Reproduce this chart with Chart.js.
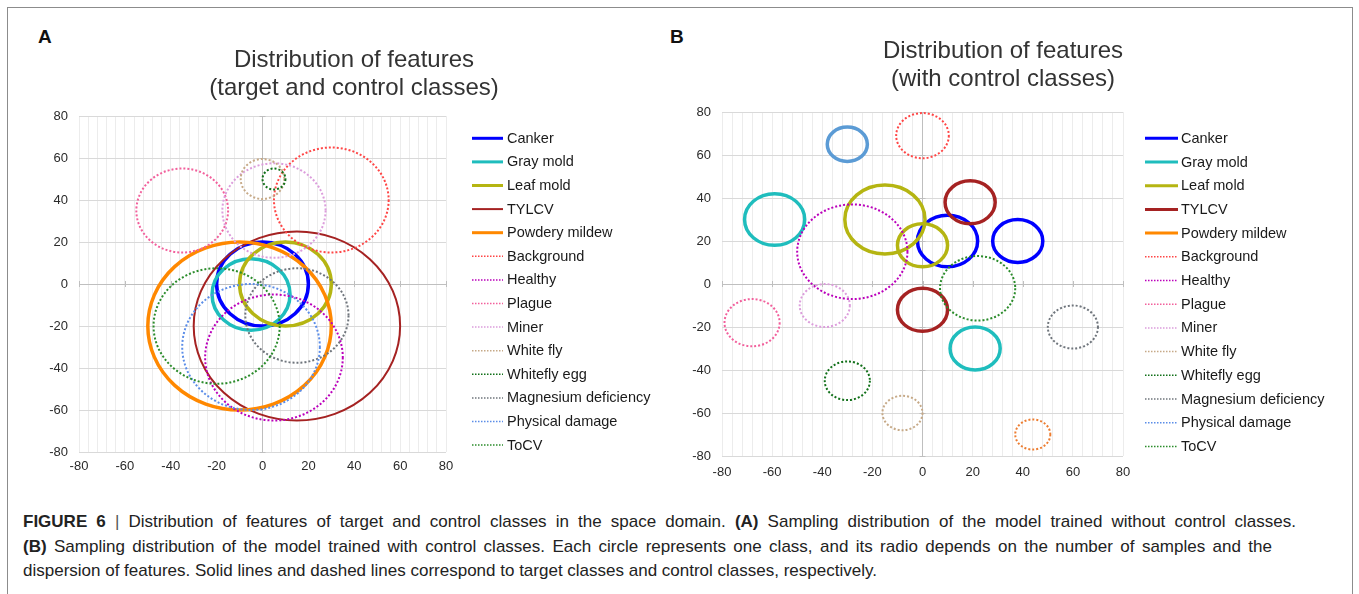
<!DOCTYPE html>
<html lang="en">
<head>
<meta charset="UTF-8">
<title>Distribution of features</title>
<script src="https://cdn.jsdelivr.net/npm/chart.js"></script>
<style>
    html, body { margin: 0; padding: 0; background: #fff; }
    body {
        width: 1359px; height: 594px; position: relative; overflow: hidden;
        font-family: 'Liberation Sans', Arial, sans-serif;
    }
    #frame {
        position: absolute; left: 7px; top: 7px; width: 1346px; height: 600px;
        border: 1px solid #8c8c8c; border-bottom: none; box-sizing: border-box;
    }
    .letter { position: absolute; top: 26px; font-weight: bold; font-size: 19px; color: #111; }
    .wrap { position: absolute; top: 0; height: 490px; }
    #caption {
        position: absolute; left: 23px; top: 510px;
        font-size: 17px; line-height: 24.5px; color: #222; white-space: nowrap;
    }
    #caption .just { text-align: justify; text-align-last: justify; }
    #caption .sep { color: #555; }
</style>
</head>
<body>
<div id="frame"></div>
<div class="letter" style="left:38px">A</div>
<div class="letter" style="left:670px">B</div>
<div class="wrap" style="left:28px; width:652px"><canvas id="chartA" width="652" height="490"></canvas></div>
<div class="wrap" style="left:680px; width:679px"><canvas id="chartB" width="679" height="490"></canvas></div>
<div id="caption">
    <div class="just" style="width:1273px"><b>FIGURE 6</b> <span class="sep">|</span> Distribution of features of target and control classes in the space domain. <b>(A)</b> Sampling distribution of the model trained without control classes.</div>
    <div class="just" style="width:1249px"><b>(B)</b> Sampling distribution of the model trained with control classes. Each circle represents one class, and its radio depends on the number of samples and the</div>
    <div>dispersion of features. Solid lines and dashed lines correspond to target classes and control classes, respectively.</div>
</div>
<script>
    // classes in legend order
    const classNames = ['Canker', 'Gray mold', 'Leaf mold', 'TYLCV', 'Powdery mildew', 'Background', 'Healthy',
        'Plague', 'Miner', 'White fly', 'Whitefly egg', 'Magnesium deficiency', 'Physical damage', 'ToCV'];
    const classColors = ['#0000ff', '#1fbdbd', '#b5b512', '#a52222', '#ff8800', '#ff4646', '#bb00bb',
        '#f2609c', '#dc9ddc', '#c6a987', '#117019', '#6f757c', '#5b8de8', '#2b8c2b'];
    const classDotted = [false, false, false, false, false, true, true, true, true, true, true, true, true, true];

    const xTickLabels = [-80, -60, -40, -20, 0, 20, 40, 60, 80];
    const yTickLabels = [-80, -60, -40, -20, 0, 20, 40, 60, 80];

    // Panel A: one circle per class (center x, center y, radius)
    const aClass = classNames;
    const aX = [0, -5, 10, 15, -10, 30, 5, -35, 5, 0, 5, 15, -5, -20];
    const aY = [0, -5, 0, -20, -20, 40, -35, 35, 35, 50, 50, -15, -30, -20];
    const aR = [20, 17, 20, 45, 40, 25, 30, 20, 22.5, 9.5, 5, 22.5, 30, 27.5];

    // Panel B: two series are drawn but not listed in the legend
    const bExtraNames = ['Series 15', 'Series 16'];
    const bExtraColors = ['#5b9bd5', '#ed7d31'];
    const bExtraDotted = [false, true];
    const bClass = ['Canker', 'Canker', 'Gray mold', 'Gray mold', 'Leaf mold', 'Leaf mold', 'TYLCV', 'TYLCV',
        'Background', 'Healthy', 'Plague', 'Miner', 'White fly', 'Whitefly egg', 'Magnesium deficiency', 'ToCV',
        'Series 15', 'Series 16'];
    const bX = [10, 38, -59, 21, -15, 0, 19, 0, 0, -28, -68, -39, -8, -30, 60, 22, -30, 44];
    const bY = [20, 20, 30, -30, 30, 18, 38, -12, 69, 15, -18, -10, -60, -45, -20, -2, 65, -70];
    const bR = [12, 10, 12, 10, 16, 10, 10, 10, 10.5, 22, 11, 10, 8, 9, 10, 15, 8, 7];

    const FONT = '"Liberation Sans", Arial, sans-serif';
    Chart.defaults.font.family = FONT;

    // draws every circle as an ellipse through the x / y scales, plus a hand placed legend
    const circlePlugin = {
        id: 'circles',
        beforeDatasetsDraw(chart) {
            const {ctx, scales: {x, y}} = chart;
            const x0 = x.getPixelForValue(0), y0 = y.getPixelForValue(0);
            ctx.save();
            ctx.strokeStyle = '#bfbfbf';
            ctx.lineWidth = 1;
            xTickLabels.forEach(v => {
                const px = Math.round(x.getPixelForValue(v)) + 0.5;
                ctx.beginPath(); ctx.moveTo(px, y0 - 3); ctx.lineTo(px, y0 + 3); ctx.stroke();
            });
            yTickLabels.forEach(v => {
                const py = Math.round(y.getPixelForValue(v)) + 0.5;
                ctx.beginPath(); ctx.moveTo(x0 - 3, py); ctx.lineTo(x0 + 3, py); ctx.stroke();
            });
            ctx.restore();
        },
        afterDatasetsDraw(chart) {
            const {ctx, chartArea, scales: {x, y}} = chart;
            ctx.save();
            ctx.beginPath();
            ctx.rect(chartArea.left, chartArea.top, chartArea.width, chartArea.height);
            ctx.clip();
            chart.data.datasets.forEach(ds => {
                ctx.strokeStyle = ds.borderColor;
                ctx.lineWidth = ds.borderWidth;
                ctx.setLineDash(ds.borderDash || []);
                ds.data.forEach(c => {
                    const cx = x.getPixelForValue(c.x), cy = y.getPixelForValue(c.y);
                    const rx = Math.abs(x.getPixelForValue(c.x + c.r) - cx);
                    const ry = Math.abs(y.getPixelForValue(c.y + c.r) - cy);
                    ctx.beginPath();
                    ctx.ellipse(cx, cy, rx, ry, 0, 0, Math.PI * 2);
                    ctx.stroke();
                });
            });
            ctx.restore();
        },
        afterDraw(chart, args, opts) {
            const ctx = chart.ctx;
            let row = 0;
            ctx.save();
            ctx.font = '14.5px ' + FONT;
            ctx.textBaseline = 'middle';
            ctx.fillStyle = '#1a1a1a';
            chart.data.datasets.forEach(ds => {
                if (ds.inLegend === false) return;
                const ly = opts.top + row * opts.step;
                ctx.strokeStyle = ds.borderColor;
                ctx.lineWidth = ds.borderDash ? 1.5 : Math.min(ds.borderWidth, 3);
                ctx.setLineDash(ds.borderDash ? [1.5, 1.5] : []);
                ctx.beginPath();
                ctx.moveTo(opts.lineX, ly);
                ctx.lineTo(opts.lineX + opts.lineLen, ly);
                ctx.stroke();
                ctx.fillText(ds.label, opts.textX, ly + 0.5);
                row++;
            });
            ctx.restore();
        }
    };

    function buildDatasets(names, colors, dotted, cls, xs, ys, rs, thin, inLegend) {
        return names.map((name, i) => ({
            label: name,
            inLegend: inLegend,
            data: cls.map((c, k) => c === name ? {x: xs[k], y: ys[k], r: rs[k]} : null).filter(Boolean),
            borderColor: colors[i],
            borderWidth: dotted[i] ? 2 : (thin.includes(name) ? 2 : 3.5),
            borderDash: dotted[i] ? [2, 2] : undefined,
            pointRadius: 0,
            showLine: false
        }));
    }

    function makeChart(id, datasets, p) {
        return new Chart(document.getElementById(id), {
            type: 'scatter',
            data: {datasets},
            options: {
                responsive: false,
                animation: false,
                events: [],
                layout: {padding: {left: 0, right: p.padRight, top: 0, bottom: 0}},
                plugins: {
                    legend: {display: false},
                    tooltip: {enabled: false},
                    title: {
                        display: true,
                        text: p.title,
                        color: '#333',
                        font: {size: 24, weight: 'normal', lineHeight: 28 / 24},
                        padding: {top: p.titleTop, bottom: p.titleBottom}
                    },
                    circles: p.legend
                },
                scales: {
                    x: {
                        type: 'linear', min: -80, max: 80,
                        afterFit: s => { s.height = p.xHeight; },
                        border: {display: false},
                        grid: {drawTicks: false, color: c => c.tick.value === 0 ? '#bfbfbf' : '#ececec'},
                        ticks: {
                            stepSize: 4, autoSkip: false, maxRotation: 0, minRotation: 0,
                            padding: p.xPad, color: '#2a2a2a', font: {size: 13},
                            callback: v => xTickLabels.includes(v) ? String(v) : ''
                        }
                    },
                    y: {
                        type: 'linear', min: -80, max: 80,
                        afterFit: s => { s.width = p.yWidth; },
                        border: {display: false},
                        grid: {drawTicks: false, color: c => c.tick.value === 0 ? '#bfbfbf' : '#d9d9d9'},
                        ticks: {
                            stepSize: 20, padding: 11, color: '#2a2a2a', font: {size: 13},
                            callback: v => yTickLabels.includes(v) ? String(v) : ''
                        }
                    },
                    // empty axis that keeps the legend space on the right
                    side: {
                        type: 'linear', position: 'right', display: true,
                        afterFit: s => { s.width = p.sideWidth; },
                        border: {display: false}, grid: {display: false}, ticks: {display: false}
                    }
                }
            },
            plugins: [circlePlugin]
        });
    }

    const dsA = buildDatasets(classNames, classColors, classDotted, aClass, aX, aY, aR, ['TYLCV'], true);
    makeChart('chartA', dsA, {
        title: ['Distribution of features', '(target and control classes)'],
        titleTop: 46, titleBottom: 14,
        padRight: 0, sideWidth: 234, yWidth: 51, xHeight: 38, xPad: 7,
        legend: {lineX: 444, lineLen: 31, textX: 479, top: 138.3, step: 23.6}
    });

    const dsB = buildDatasets(classNames, classColors, classDotted, bClass, bX, bY, bR, [], true)
        .concat(buildDatasets(bExtraNames, bExtraColors, bExtraDotted, bClass, bX, bY, bR, [], false));
    makeChart('chartB', dsB, {
        title: ['Distribution of features', '(with control classes)'],
        titleTop: 37, titleBottom: 19,
        padRight: 33, sideWidth: 203, yWidth: 42, xHeight: 34, xPad: 9,
        legend: {lineX: 465, lineLen: 33, textX: 501, top: 138.3, step: 23.7}
    });
</script>
</body>
</html>
